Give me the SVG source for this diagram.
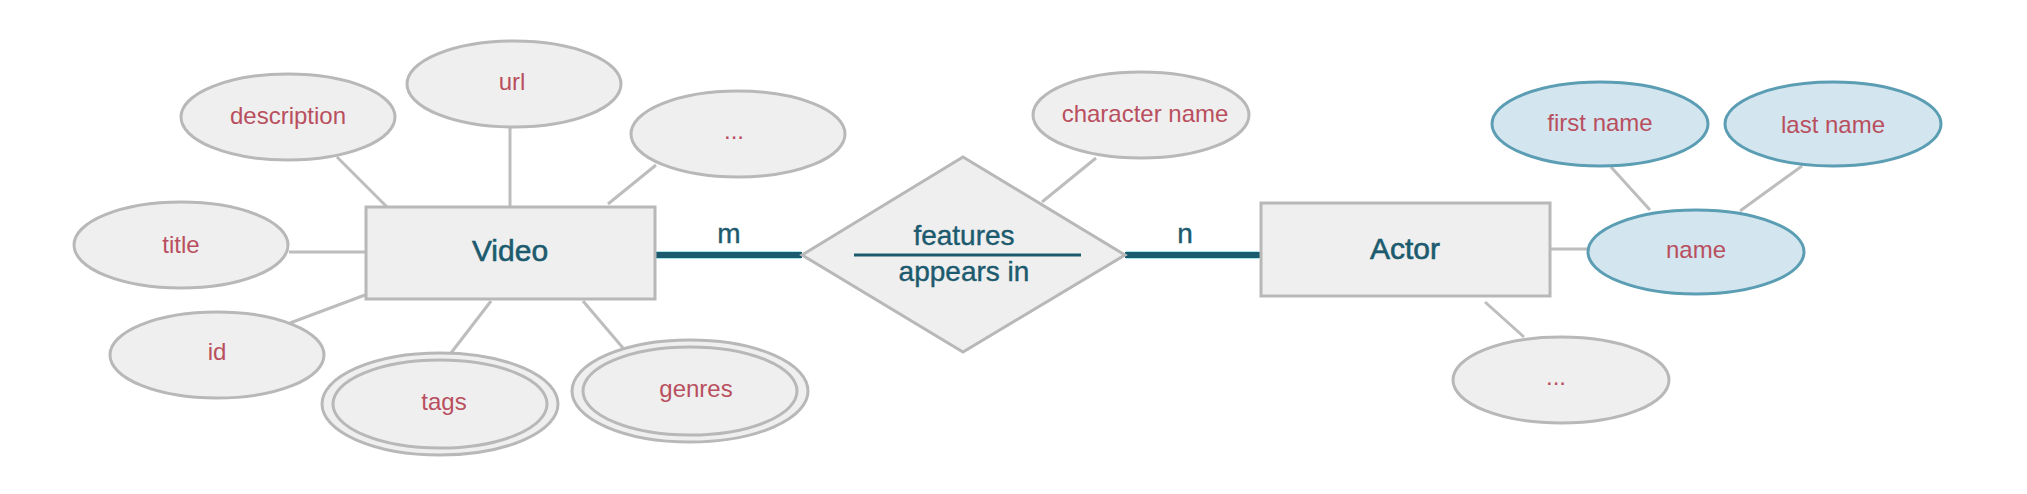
<svg xmlns="http://www.w3.org/2000/svg" width="2027" height="494" viewBox="0 0 2027 494">
<style>
.attr ellipse{fill:#efefef;stroke:#b8b8b8;stroke-width:3}
.comp ellipse{fill:#d3e5ef;stroke:#5b9db3;stroke-width:3}
.ent rect,.rel polygon{fill:#efefef;stroke:#b8b8b8;stroke-width:3}
.at{font-family:"Liberation Sans",Arial,sans-serif;font-size:24px;fill:#b94f5e;text-anchor:middle}
.et{font-family:"Liberation Sans",Arial,sans-serif;font-size:30px;fill:#1c5a6e;stroke:#1c5a6e;stroke-width:0.6;text-anchor:middle}
.rt{font-family:"Liberation Sans",Arial,sans-serif;font-size:28px;fill:#1c5a6e;stroke:#1c5a6e;stroke-width:0.4;text-anchor:middle}
.ln{stroke:#bdbdbd;stroke-width:3;fill:none}
.halo{stroke:#a9e3f0;stroke-width:8;fill:none}
.tk{stroke:#1a5a6e;stroke-width:6;fill:none}
</style>
<rect width="2027" height="494" fill="#ffffff"/>
<g id="connectors">
<line class="ln" x1="337" y1="157" x2="387" y2="207"/>
<line class="ln" x1="510" y1="127" x2="510" y2="207"/>
<line class="ln" x1="656" y1="165" x2="608" y2="204"/>
<line class="ln" x1="289" y1="252" x2="365" y2="252"/>
<line class="ln" x1="290" y1="323" x2="365" y2="295"/>
<line class="ln" x1="451" y1="353" x2="491" y2="301"/>
<line class="ln" x1="623" y1="348" x2="583" y2="301"/>
<line class="ln" x1="1096" y1="158" x2="1042" y2="202"/>
<line class="ln" x1="1550" y1="249" x2="1588" y2="249"/>
<line class="ln" x1="1611" y1="167" x2="1650" y2="210"/>
<line class="ln" x1="1802" y1="166" x2="1740" y2="211"/>
<line class="ln" x1="1485" y1="302" x2="1524" y2="337"/>
<line class="halo" x1="656" y1="255" x2="801" y2="255"/>
<line class="halo" x1="1126" y1="255" x2="1259" y2="255"/>
<line class="tk" x1="655" y1="255" x2="802" y2="255"/>
<line class="tk" x1="1125" y1="255" x2="1260" y2="255"/>
<text class="rt" x="729" y="243">m</text>
<text class="rt" x="1185" y="243">n</text>
</g>
<g id="video" class="ent"><rect x="366" y="207" width="289" height="92"/><text class="et" x="510" y="261">Video</text></g>
<g id="actor" class="ent"><rect x="1261" y="203" width="289" height="93"/><text class="et" x="1405" y="259">Actor</text></g>
<g id="features" class="rel"><polygon points="802,255 963,157 1125,255 963,352"/>
<text class="rt" x="964" y="245">features</text>
<line x1="854" y1="255" x2="1081" y2="255" stroke="#1a5a6e" stroke-width="3"/>
<text class="rt" x="964" y="281">appears in</text></g>
<g id="description" class="attr"><ellipse cx="288" cy="117" rx="107" ry="43"/><text class="at" x="288" y="124">description</text></g>
<g id="url" class="attr"><ellipse cx="514" cy="84" rx="107" ry="43"/><text class="at" x="512" y="90">url</text></g>
<g id="more-video" class="attr"><ellipse cx="738" cy="134" rx="107" ry="43"/><text class="at" x="734" y="139">...</text></g>
<g id="title" class="attr"><ellipse cx="181" cy="245" rx="107" ry="43"/><text class="at" x="181" y="253">title</text></g>
<g id="id" class="attr"><ellipse cx="217" cy="355" rx="107" ry="43"/><text class="at" x="217" y="360">id</text></g>
<g id="tags" class="attr"><ellipse cx="440" cy="404" rx="118" ry="51"/><ellipse cx="440" cy="404" rx="107" ry="44"/><text class="at" x="444" y="410">tags</text></g>
<g id="genres" class="attr"><ellipse cx="690" cy="391" rx="118" ry="51"/><ellipse cx="690" cy="391" rx="107" ry="44"/><text class="at" x="696" y="397">genres</text></g>
<g id="character-name" class="attr"><ellipse cx="1141" cy="115" rx="108" ry="43"/><text class="at" x="1145" y="122">character name</text></g>
<g id="first-name" class="comp"><ellipse cx="1600" cy="124" rx="108" ry="42"/><text class="at" x="1600" y="131">first name</text></g>
<g id="last-name" class="comp"><ellipse cx="1833" cy="124" rx="108" ry="42"/><text class="at" x="1833" y="133">last name</text></g>
<g id="name" class="comp"><ellipse cx="1696" cy="252" rx="108" ry="42"/><text class="at" x="1696" y="258">name</text></g>
<g id="more-actor" class="attr"><ellipse cx="1561" cy="380" rx="108" ry="43"/><text class="at" x="1556" y="385">...</text></g>
</svg>
